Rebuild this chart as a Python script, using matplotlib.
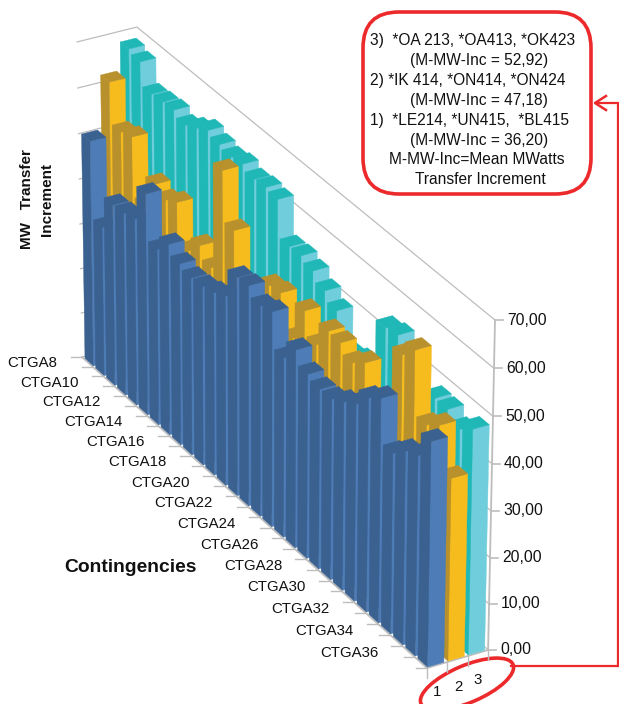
import numpy as np
import matplotlib
matplotlib.use("Agg")
import matplotlib.pyplot as plt
from matplotlib.patches import Ellipse, FancyBboxPatch
from mpl_toolkits.mplot3d.art3d import Poly3DCollection

plt.rcParams['font.family'] = ['Liberation Sans', 'DejaVu Sans']

categories = ['CTGA%d' % k for k in range(8, 38)]
series_names = ['1', '2', '3']
value_ticks = [0, 10, 20, 30, 40, 50, 60, 70]

series_1 = [50.2, 33.3, 40.3, 40.6, 41.4, 49.0, 39.0, 42.2, 40.1, 39.1,
            39.4, 40.2, 41.7, 47.8, 48.2, 46.0, 46.9, 39.2, 43.1, 40.1,
            39.1, 39.2, 40.8, 42.6, 46.1, 48.3, 38.9, 41.6, 43.0, 48.2]
series_2 = [62.0, 53.1, 54.1, 41.2, 47.9, 46.5, 48.1, 39.7, 42.9, 40.2,
            63.3, 52.5, 40.0, 40.0, 47.0, 47.6, 40.0, 48.1, 43.0, 48.1,
            47.8, 45.7, 47.9, 38.0, 38.0, 56.2, 59.4, 45.9, 48.1, 39.2]
series_3 = [68.1, 67.3, 62.3, 62.6, 62.9, 61.6, 63.0, 64.6, 63.6, 62.9,
            63.5, 62.3, 62.7, 62.2, 54.2, 54.4, 53.3, 51.2, 49.1, 42.0,
            42.9, 40.0, 54.1, 54.8, 46.0, 45.0, 48.1, 48.0, 46.0, 48.3]
all_series = [series_1, series_2, series_3]

side_colors = ['#3A6190', '#B8912C', '#20B8B6']
front_colors = ['#4E7CB6', '#F6BC1E', '#70CEDC']
top_colors = ['#3A6190', '#B8912C', '#20B8B6']

W, H = 619, 704
# camera calibration: box corners (series, category, value) -> pixel
world = np.array([(0, 30, 0), (3, 30, 0), (3, 30, 70), (0, 0, 0), (0, 0, 70), (3, 0, 70)], float)
pixel = np.array([(427, 668), (488, 650), (495, 320), (82, 357), (77, 42), (137, 27)], float)
A, b = [], []
for (X, Y, Z), (u, v) in zip(world, pixel):
    A.append([X, Y, Z, 1, 0, 0, 0, 0, -u*X, -u*Y, -u*Z]); b.append(u)
    A.append([0, 0, 0, 0, X, Y, Z, 1, -v*X, -v*Y, -v*Z]); b.append(v)
p = np.linalg.lstsq(np.array(A), np.array(b), rcond=None)[0]
P = np.array([p[:4], p[4:8], [p[8], p[9], p[10], 1.0]])
M = np.array([P[0], P[1], [0, 1, 0, 0], P[2]])


def to_px(x, y, z):
    r = P @ np.array([x, y, z, 1.0])
    return r[0] / r[2], r[1] / r[2]


def overlay(f):
    a = f.add_axes([0, 0, 1, 1], facecolor='none')
    a.set_xlim(0, W)
    a.set_ylim(H, 0)
    a.axis('off')
    return a


fig = plt.figure(figsize=(W / 100, H / 100), dpi=100)

# walls and floor edges, behind the bars
bg = overlay(fig)
grid = '#BDBDBD'
for v in value_ticks:
    pts = [to_px(3, 30, v), to_px(3, 0, v), to_px(0, 0, v)]
    bg.plot([q[0] for q in pts], [q[1] for q in pts], color=grid, lw=0.9)
pts = [to_px(0, 0, 0), to_px(0, 30, 0), to_px(3, 30, 0), to_px(3, 30, 70)]
bg.plot([q[0] for q in pts], [q[1] for q in pts], color=grid, lw=1.3)

ax = fig.add_axes([0, 0, 1, 1], projection='3d')
ax.set_axis_off()
ax.patch.set_visible(False)
ax.computed_zorder = False
ax.get_proj = lambda: M
ax.apply_aspect = lambda position=None: None
ax.set_autoscale_on(False)

BX0, BX1 = 0.06, 0.86
BY0, BY1 = 0.17, 0.95
z = 10
for s in (2, 1, 0):
    for k, val in enumerate(all_series[s]):
        x0, x1, y0, y1 = s + BX0, s + BX1, k + BY0, k + BY1
        left = [(x0, y0, 0), (x0, y1, 0), (x0, y1, val), (x0, y0, val)]
        front = [(x0, y1, 0), (x1, y1, 0), (x1, y1, val), (x0, y1, val)]
        top = [(x0, y0, val), (x0, y1, val), (x1, y1, val), (x1, y0, val)]
        cols = [side_colors[s], front_colors[s], top_colors[s]]
        c = Poly3DCollection([left, front, top], facecolors=cols, edgecolors=cols, linewidths=0.3)
        c.set_zorder(z)
        z += 1
        ax.add_collection3d(c)

ax.viewLim.intervalx = (0, W)
ax.viewLim.intervaly = (H, 0)

# 2D overlay for ticks, labels and annotation
ov = overlay(fig)

for k in range(0, 31):
    px, py = to_px(0, k, 0)
    ov.plot([px - 11, px], [py, py], color=grid, lw=1.0)
for i in range(4):
    px, py = to_px(i, 30, 0)
    ov.plot([px, px], [py, py + 10], color=grid, lw=1.0)
for v in value_ticks:
    px, py = to_px(3, 30, v)
    ov.plot([px, px + 8], [py, py], color=grid, lw=1.2)
    ov.text(px + 12, py, ('%.2f' % v).replace('.', ','), ha='left', va='center', fontsize=11.3, color='#111111')

for k, name in enumerate(categories):
    if k % 2 == 0 and k < 29:
        px, py = to_px(0, k + 0.5, 0)
        ov.text(px - 30, py + 1.5, name, ha='right', va='center', fontsize=10.8, color='#111111')

for name, (lx, ly) in zip(series_names, [(437, 692), (458, 687), (478, 680)]):
    ov.text(lx, ly, name, ha='center', va='center', fontsize=10.8, color='#111111')

ov.text(130, 568, 'Contingencies', ha='center', va='center', fontsize=13.9, fontweight='bold', color='#111111')
ov.text(27, 199, 'MW   Transfer', rotation=90, ha='center', va='center', fontsize=11, fontweight='bold', color='#111111')
ov.text(47, 200, 'Increment', rotation=90, ha='center', va='center', fontsize=11, fontweight='bold', color='#111111')

red = '#EC2A2C'
ov.add_patch(FancyBboxPatch((363 + 36, 12 + 36), 228 - 72, 182 - 72, boxstyle='round,pad=36,rounding_size=36',
                            fc='white', ec=red, lw=2.6))
ov.add_patch(Ellipse((467, 684), 100, 37, angle=-23, fc='none', ec=red, lw=2.6))
ov.plot([511, 618, 618, 596], [666, 666, 103, 103], color=red, lw=1.6, solid_joinstyle='miter')
ov.plot([606, 595, 606], [96, 103, 110], color=red, lw=1.8)

box_lines = [
    ('3)  *OA 213, *OA413, *OK423', 370, 40, 'left'),
    ('(M-MW-Inc = 52,92)', 410, 60, 'left'),
    ('2) *IK 414, *ON414, *ON424', 370, 80, 'left'),
    ('(M-MW-Inc = 47,18)', 410, 100, 'left'),
    ('1)  *LE214, *UN415,  *BL415', 370, 120, 'left'),
    ('(M-MW-Inc = 36,20)', 410, 140, 'left'),
    ('M-MW-Inc=Mean MWatts', 477, 160, 'center'),
    ('Transfer Increment', 480, 180, 'center'),
]
for t, tx, ty, ha in box_lines:
    ov.text(tx, ty, t, ha=ha, va='center', fontsize=11.2, color='#111111')

fig.savefig('out.png', dpi=100)
